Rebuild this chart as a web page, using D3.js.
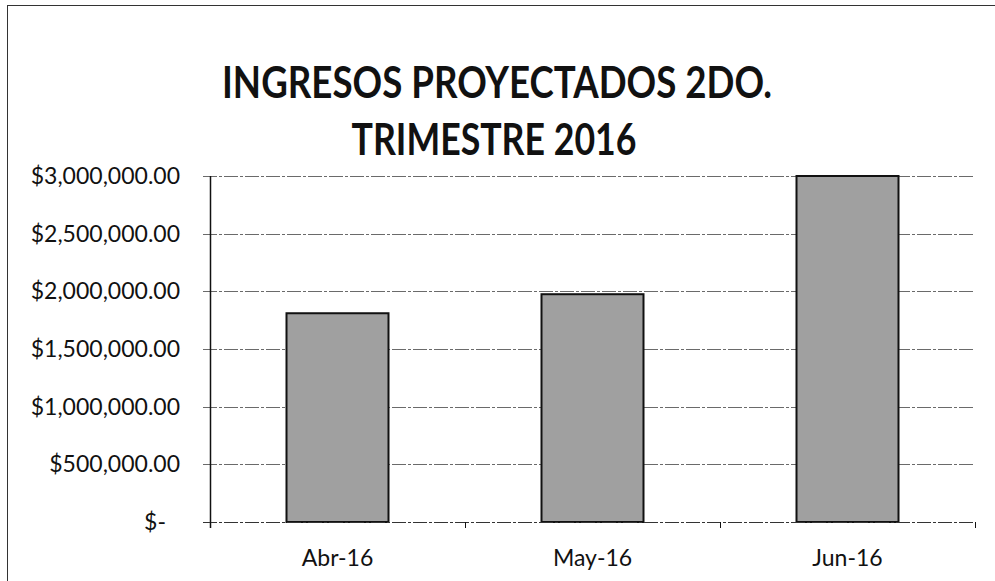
<!DOCTYPE html>
<html><head><meta charset="utf-8">
<script src="https://cdn.jsdelivr.net/npm/d3@7"></script>
<style>body{margin:0;background:#fff}svg{display:block}</style>
</head><body>
<svg id="c" width="995" height="581"></svg>
<script>
const titleLines = ["INGRESOS PROYECTADOS 2DO.", "TRIMESTRE 2016"];
const categories = ["Abr-16", "May-16", "Jun-16"];
const values = [1810000, 1975000, 3000000];
const yTicks = [0, 500000, 1000000, 1500000, 2000000, 2500000, 3000000];

(function () {
const svg = d3.select("#c");
const font = "Lato, 'Open Sans', sans-serif";

// chart frame
svg.append("rect").attr("x", 7.5).attr("y", 5.5).attr("width", 1000).attr("height", 700)
  .attr("fill", "none").attr("stroke", "#333").attr("stroke-width", 1);

// title
svg.append("text").attr("x", 497).attr("y", 98).attr("text-anchor", "middle")
  .attr("font-family", font).attr("font-weight", "bold").attr("font-size", 43)
  .attr("fill", "#111").attr("textLength", 550).attr("lengthAdjust", "spacingAndGlyphs")
  .text(titleLines[0]);
svg.append("text").attr("x", 494).attr("y", 155).attr("text-anchor", "middle")
  .attr("font-family", font).attr("font-weight", "bold").attr("font-size", 43)
  .attr("fill", "#111").attr("textLength", 285).attr("lengthAdjust", "spacingAndGlyphs")
  .text(titleLines[1]);

const pL = 210, pR = 975, pT = 176, pB = 522;
const y = d3.scaleLinear().domain([0, 3000000]).range([pB, pT]);
const x = d3.scaleBand().domain(categories).range([pL, pR]).paddingInner(0.6).paddingOuter(0.3);
const xb = d3.scaleBand().domain(categories).range([pL, pR]);

// gridlines
svg.append("g").selectAll("line").data(yTicks.filter(d => d > 0)).join("line")
  .attr("x1", pL - 7).attr("x2", pR)
  .attr("y1", d => Math.round(y(d)) + 0.5).attr("y2", d => Math.round(y(d)) + 0.5)
  .attr("stroke", "#6a6a6a").attr("stroke-width", 1).attr("stroke-dasharray", "14 2 3 2");

// y tick labels
const fmt = d3.format("$,.2f");
svg.append("g").selectAll("text").data(yTicks).join("text")
  .attr("x", d => d === 0 ? 166 : 180)
  .attr("y", d => y(d)).attr("dy", "0.35em").attr("text-anchor", "end")
  .attr("font-family", font).attr("font-size", 23).attr("fill", "#111")
  .text(d => d === 0 ? "$-" : fmt(d));

// bars
svg.append("g").selectAll("rect").data(values).join("rect")
  .attr("x", (d, i) => x(categories[i]))
  .attr("y", d => y(d))
  .attr("width", x.bandwidth())
  .attr("height", d => pB - y(d))
  .attr("fill", "#a0a0a0").attr("stroke", "#111").attr("stroke-width", 2);

// axes lines
svg.append("line").attr("x1", pL + 0.5).attr("x2", pL + 0.5).attr("y1", pT).attr("y2", pB + 6)
  .attr("stroke", "#111").attr("stroke-width", 1.5);
svg.append("line").attr("x1", pL - 7).attr("x2", pR).attr("y1", pB + 0.5).attr("y2", pB + 0.5)
  .attr("stroke", "#333").attr("stroke-width", 1).attr("stroke-dasharray", "14 2 3 2");
const bounds = categories.map(c => xb(c)).concat([pR]);
svg.append("g").selectAll("line").data(bounds).join("line")
  .attr("x1", d => d + 0.5).attr("x2", d => d + 0.5).attr("y1", pB).attr("y2", pB + 6)
  .attr("stroke", "#111").attr("stroke-width", 1);

// x labels
svg.append("g").selectAll("text").data(categories).join("text")
  .attr("x", d => xb(d) + xb.bandwidth() / 2).attr("y", 566).attr("text-anchor", "middle")
  .attr("font-family", font).attr("font-size", 23).attr("fill", "#111")
  .text(d => d);
})();
</script>
</body></html>
